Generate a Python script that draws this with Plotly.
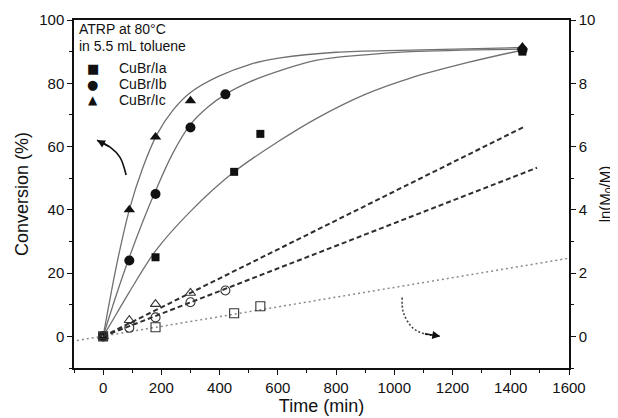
import plotly.graph_objects as go

# ---- measured data (Conversion %, left axis) ----
time_a = [0, 180, 450, 540, 1440]
conv_a = [0, 25, 52, 64, 90]
time_b = [0, 90, 180, 300, 420, 1440]
conv_b = [0, 24, 45, 66, 76.5, 90.5]
time_c = [0, 90, 180, 300, 1440]
conv_c = [0, 40, 63, 74.5, 91.5]

# ---- ln(M0/M), right axis ----
tln_a = [0, 180, 450, 540]
ln_a = [0, 0.29, 0.73, 0.95]
tln_b = [0, 90, 180, 300, 420]
ln_b = [0, 0.27, 0.6, 1.08, 1.45]
tln_c = [0, 90, 180, 300]
ln_c = [0, 0.51, 1.02, 1.37]

# ---- fitted conversion curves ----
fit_ta = [0, 45, 90, 180, 300, 450, 600, 735, 900, 1050, 1250, 1440]
fit_ca = [0, 7, 14, 27, 39.5, 52, 61.5, 69, 76.5, 81.5, 86.5, 90.5]
fit_tb = [0, 45, 90, 135, 180, 240, 300, 360, 420, 505, 608, 735, 900, 1055, 1440]
fit_cb = [0, 13, 25, 36, 46, 58, 67, 72.5, 76.5, 80.5, 84, 87.3, 89, 90, 90.8]
fit_tc = [0, 20, 45, 90, 135, 186, 240, 299, 392, 505, 608, 800, 1055, 1440]
fit_cc = [0, 10, 22, 40, 53, 64, 71.5, 77, 82, 86, 88, 89.8, 90.5, 91.3]

# ---- linear fits of ln(M0/M) ----
lin_ta = [-90, 1600]
lin_la = [-0.13, 2.47]
lin_tb = [0, 1490]
lin_lb = [0, 5.33]
lin_tc = [0, 1445]
lin_lc = [0, 6.62]

# ---- curved guide arrows ----
arrowL_t = [79, 58, 24, -21]
arrowL_y = [51, 56.6, 59.8, 62]
arrowR_t = [1027, 1031, 1062, 1100, 1158]
arrowR_y = [1.23, 0.76, 0.28, 0.09, 0.0]

# ---- legend texts ----
legend_title = ["ATRP at 80°C", "in 5.5 mL toluene"]
names = ["CuBr/Ia", "CuBr/Ib", "CuBr/Ic"]
legend_glyphs = ["■", "●", "▲"]

BLACK = "#111111"
CURVE = "#707070"
FONT = "Liberation Sans, Arial, sans-serif"

fig = go.Figure()

# fitted curves
for t, c in [(fit_ta, fit_ca), (fit_tb, fit_cb), (fit_tc, fit_cc)]:
    fig.add_trace(go.Scatter(x=t, y=c, mode="lines",
                             line=dict(color=CURVE, width=1.3, shape="spline", smoothing=1.0),
                             showlegend=False, hoverinfo="skip"))

# linear fits on right axis
fig.add_trace(go.Scatter(x=lin_ta, y=lin_la, yaxis="y2", mode="lines",
                         line=dict(color="#8a8a8a", width=1.5, dash="2px,3px"), showlegend=False))
fig.add_trace(go.Scatter(x=lin_tb, y=lin_lb, yaxis="y2", mode="lines",
                         line=dict(color="#2e2e2e", width=2, dash="5px,3px"), showlegend=False))
fig.add_trace(go.Scatter(x=lin_tc, y=lin_lc, yaxis="y2", mode="lines",
                         line=dict(color="#2e2e2e", width=2, dash="5px,3px"), showlegend=False))

# open markers (right axis)
for t, v, sym in [(tln_a, ln_a, "square-open"), (tln_b, ln_b, "circle-open"), (tln_c, ln_c, "triangle-up-open")]:
    fig.add_trace(go.Scatter(x=t, y=v, yaxis="y2", mode="markers",
                             marker=dict(symbol=sym, size=9, color="#333333", line=dict(width=1.1)),
                             showlegend=False))

# filled markers (left axis)
for t, v, sym, nm, sz in [(time_a, conv_a, "square", names[0], 8), (time_b, conv_b, "circle", names[1], 10),
                          (time_c, conv_c, "triangle-up", names[2], 10)]:
    fig.add_trace(go.Scatter(x=t, y=v, mode="markers", name=nm, showlegend=False,
                             marker=dict(symbol=sym, size=sz, color=BLACK)))

# guide arrows
fig.add_trace(go.Scatter(x=arrowL_t, y=arrowL_y, mode="lines", line=dict(color=BLACK, width=1.6, shape="spline"),
                         showlegend=False, hoverinfo="skip"))
fig.add_trace(go.Scatter(x=arrowR_t, y=arrowR_y, yaxis="y2", mode="lines",
                         line=dict(color="#444444", width=1.6, dash="2px,2px", shape="spline"),
                         showlegend=False, hoverinfo="skip"))
fig.add_annotation(x=arrowL_t[-1], y=arrowL_y[-1], ax=arrowL_t[-2], ay=arrowL_y[-2], xref="x", yref="y",
                   axref="x", ayref="y", showarrow=True, arrowhead=2, arrowsize=1, arrowwidth=1.6,
                   arrowcolor=BLACK, text="")
fig.add_annotation(x=arrowR_t[-1], y=arrowR_y[-1], ax=arrowR_t[-2], ay=arrowR_y[-2], xref="x", yref="y2",
                   axref="x", ayref="y2", showarrow=True, arrowhead=2, arrowsize=1, arrowwidth=1.6,
                   arrowcolor=BLACK, text="")

# in-plot legend (paper coordinates)
title_y = [0.974, 0.925]
for txt, yy in zip(legend_title, title_y):
    fig.add_annotation(x=0.006, y=yy, xref="paper", yref="paper", xanchor="left", yanchor="middle",
                       text=txt, showarrow=False, font=dict(family=FONT, size=14, color=BLACK))
entry_y = [0.862, 0.816, 0.770]
glyph_size = [13, 13, 12]
for g, nm, yy, gs in zip(legend_glyphs, names, entry_y, glyph_size):
    fig.add_annotation(x=0.038, y=yy, xref="paper", yref="paper", xanchor="center", yanchor="middle",
                       text=g, showarrow=False, font=dict(family="DejaVu Sans", size=gs, color=BLACK))
    fig.add_annotation(x=0.087, y=yy, xref="paper", yref="paper", xanchor="left", yanchor="middle",
                       text=nm, showarrow=False, font=dict(family=FONT, size=14, color=BLACK))

axis_common = dict(showline=True, linecolor=BLACK, linewidth=1.5, showgrid=False, zeroline=False,
                   automargin=False,
                   ticks="outside", ticklen=5, tickwidth=1.3, tickcolor=BLACK,
                   tickfont=dict(family=FONT, size=15, color=BLACK))

fig.update_layout(
    width=610, height=410,
    margin=dict(l=66, r=49, t=12, b=50),
    paper_bgcolor="white", plot_bgcolor="white",
    showlegend=False,
    font=dict(family=FONT, color=BLACK),
    xaxis=dict(range=[-100, 1600], dtick=200, mirror=True,
               minor=dict(dtick=100, ticklen=3, ticks="outside", tickcolor=BLACK),
               title=dict(text="Time (min)", font=dict(size=18), standoff=3), **axis_common),
    yaxis=dict(range=[-10, 100], dtick=20,
               minor=dict(dtick=10, ticklen=3, ticks="outside", tickcolor=BLACK),
               title=dict(text="Conversion (%)", font=dict(size=18), standoff=6), **axis_common),
    yaxis2=dict(range=[-1, 10], dtick=2, overlaying="y", side="right", anchor="x",
                minor=dict(dtick=1, ticklen=3, ticks="outside", tickcolor=BLACK),
                title=dict(text="ln(M<sub>0</sub>/M)", font=dict(size=15), standoff=5), **axis_common),
)

fig.write_html("out.html")
